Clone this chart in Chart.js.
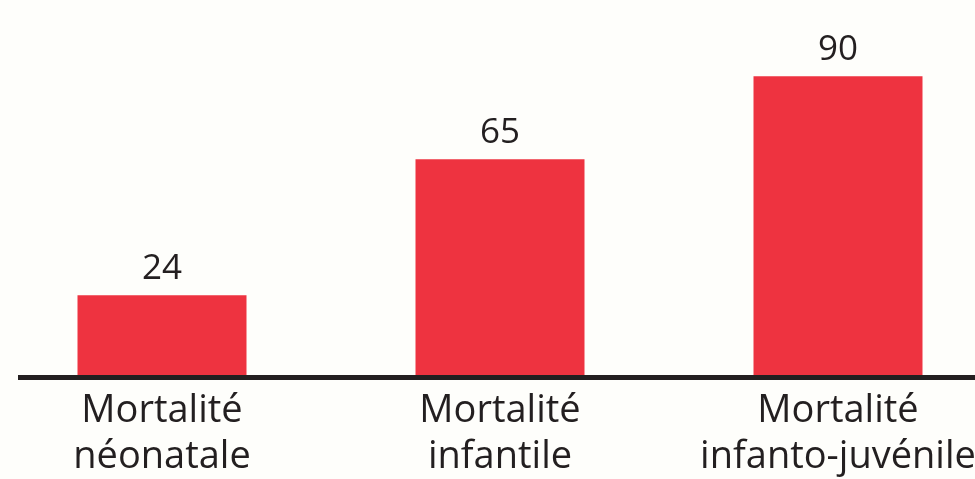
<!DOCTYPE html>
<html>
<head>
<meta charset="utf-8">
<script src="https://cdn.jsdelivr.net/npm/chart.js@4"></script>
<style>
  html, body { margin: 0; padding: 0; background: #fefefb; overflow: hidden; }
  #wrap { position: relative; width: 1014px; height: 479px; margin-left: -7px; }
</style>
</head>
<body>
<div id="wrap"><canvas id="myChart"></canvas></div>
<script>
// DATA
const labels = [
    ["Mortalité", "néonatale"],
    ["Mortalité", "infantile"],
    ["Mortalité", "infanto-juvénile"],
];
const values = [24, 65, 90];

const textColor = "#231f20";

// value labels over the bars + baseline
const extras = {
    id: "extras",
    afterDatasetsDraw(chart) {
        const ctx = chart.ctx;
        const meta = chart.getDatasetMeta(0);
        ctx.save();
        ctx.fillStyle = textColor;
        ctx.font = "35px 'Open Sans'";
        ctx.textAlign = "center";
        ctx.textBaseline = "alphabetic";
        meta.data.forEach((bar, i) => {
            ctx.fillText(values[i], bar.x, bar.y - 16);
        });
        // axis line
        const y = chart.scales.y.getPixelForValue(0) + 2.5;
        ctx.strokeStyle = textColor;
        ctx.lineWidth = 5;
        ctx.beginPath();
        ctx.moveTo(25, y);
        ctx.lineTo(chart.width, y);
        ctx.stroke();
        ctx.restore();
    },
};

const data = {
    labels: labels,
    datasets: [
        {
            data: values,
            backgroundColor: "#ee3340",
            barPercentage: 0.5,
            categoryPercentage: 1,
        },
    ],
};

const config = {
    type: "bar",
    data: data,
    options: {
        responsive: false,
        animation: false,
        layout: { padding: 0 },
        scales: {
            x: {
                grid: { display: false, drawTicks: false },
                border: { display: false },
                ticks: {
                    color: textColor,
                    padding: 13,
                    font: { family: "'Open Sans'", size: 38, lineHeight: 1.21 },
                    maxRotation: 0,
                    autoSkip: false,
                },
                afterFit(scale) {
                    scale.height = 104;
                },
            },
            y: {
                display: false,
                min: 0,
                max: 113,
            },
        },
        plugins: {
            legend: { display: false },
            tooltip: { enabled: false },
        },
    },
    plugins: [extras],
};

const canvas = document.getElementById("myChart");
canvas.width = 1014;
canvas.height = 479;
const myChart = new Chart(canvas, config);
</script>
</body>
</html>
